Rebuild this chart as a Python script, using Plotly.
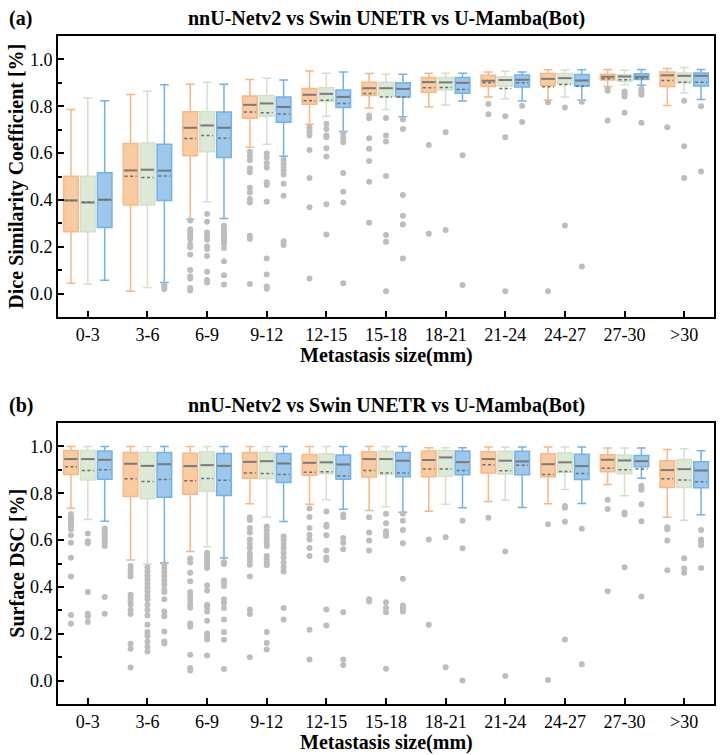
import plotly.graph_objects as go

CATEGORIES = ["0-3", "3-6", "6-9", "9-12", "12-15", "15-18", "18-21", "21-24", "24-27", "27-30", ">30"]
SERIES = ["nnU-Netv2", "Swin UNETR", "U-Mamba(Bot)"]

# ---------------- Panel (a): Dice Similarity Coefficient ----------------
A_NNU_UPPER = [0.786, 0.850, 0.894, 0.914, 0.951, 0.940, 0.941, 0.946, 0.956, 0.957, 0.961]
A_NNU_Q3 = [0.501, 0.641, 0.777, 0.844, 0.876, 0.903, 0.923, 0.932, 0.940, 0.937, 0.946]
A_NNU_MEDIAN = [0.398, 0.526, 0.708, 0.806, 0.849, 0.877, 0.903, 0.909, 0.917, 0.926, 0.932]
A_NNU_MEAN = [0.397, 0.501, 0.662, 0.775, 0.823, 0.854, 0.879, 0.900, 0.883, 0.917, 0.910]
A_NNU_Q1 = [0.264, 0.378, 0.589, 0.749, 0.809, 0.846, 0.860, 0.884, 0.889, 0.912, 0.884]
A_NNU_LOWER = [0.044, 0.010, 0.317, 0.625, 0.723, 0.793, 0.797, 0.840, 0.826, 0.884, 0.803]
A_NNU_OUTLIERS = [
    [], [],
    [0.312, 0.275, 0.261, 0.247, 0.232, 0.210, 0.198, 0.167, 0.101, 0.073, 0.064, 0.024, 0.013],
    [0.606, 0.586, 0.569, 0.535, 0.518, 0.452, 0.432, 0.404, 0.389, 0.247, 0.233, 0.041],
    [0.710, 0.692, 0.675, 0.613, 0.494, 0.369, 0.064],
    [0.760, 0.749, 0.663, 0.618, 0.566, 0.478, 0.302],
    [0.635, 0.255],
    [0.810, 0.766],
    [0.817, 0.010],
    [0.874, 0.866, 0.739],
    [0.710],
]

A_SWIN_UPPER = [0.835, 0.864, 0.903, 0.920, 0.941, 0.937, 0.941, 0.950, 0.956, 0.954, 0.966]
A_SWIN_Q3 = [0.501, 0.643, 0.777, 0.846, 0.879, 0.903, 0.923, 0.926, 0.940, 0.934, 0.942]
A_SWIN_MEDIAN = [0.389, 0.529, 0.718, 0.812, 0.853, 0.877, 0.902, 0.912, 0.920, 0.927, 0.930]
A_SWIN_MEAN = [0.390, 0.496, 0.675, 0.772, 0.826, 0.840, 0.880, 0.876, 0.893, 0.913, 0.903]
A_SWIN_Q1 = [0.264, 0.378, 0.606, 0.757, 0.820, 0.842, 0.869, 0.887, 0.896, 0.906, 0.900]
A_SWIN_LOWER = [0.041, 0.026, 0.392, 0.638, 0.757, 0.786, 0.805, 0.832, 0.840, 0.892, 0.857]
A_SWIN_OUTLIERS = [
    [], [],
    [0.340, 0.307, 0.261, 0.247, 0.230, 0.201, 0.190, 0.161, 0.093, 0.058, 0.047],
    [0.598, 0.581, 0.558, 0.538, 0.475, 0.464, 0.392, 0.150, 0.081, 0.030, 0.021],
    [0.725, 0.703, 0.675, 0.668, 0.621, 0.585, 0.381, 0.252],
    [0.750, 0.675, 0.649, 0.502, 0.250, 0.221, 0.010],
    [0.689, 0.272],
    [0.757, 0.668, 0.010],
    [0.795, 0.291],
    [0.863, 0.853, 0.842, 0.772],
    [0.823, 0.629, 0.494],
]

A_MAMBA_UPPER = [0.823, 0.892, 0.894, 0.912, 0.946, 0.937, 0.941, 0.946, 0.956, 0.957, 0.957]
A_MAMBA_Q3 = [0.516, 0.638, 0.775, 0.839, 0.869, 0.900, 0.923, 0.933, 0.936, 0.939, 0.942]
A_MAMBA_MEDIAN = [0.401, 0.525, 0.708, 0.797, 0.840, 0.874, 0.900, 0.913, 0.910, 0.926, 0.930]
A_MAMBA_MEAN = [0.401, 0.502, 0.663, 0.767, 0.812, 0.840, 0.872, 0.900, 0.886, 0.919, 0.902]
A_MAMBA_Q1 = [0.282, 0.398, 0.581, 0.732, 0.795, 0.840, 0.856, 0.882, 0.886, 0.914, 0.887]
A_MAMBA_LOWER = [0.057, 0.047, 0.321, 0.586, 0.692, 0.755, 0.822, 0.822, 0.827, 0.890, 0.829]
A_MAMBA_OUTLIERS = [
    [],
    [0.036, 0.028, 0.020],
    [0.290, 0.275, 0.261, 0.250, 0.238, 0.227, 0.215, 0.195, 0.138, 0.078, 0.039],
    [0.572, 0.555, 0.541, 0.526, 0.509, 0.469, 0.418, 0.224, 0.207],
    [0.683, 0.663, 0.646, 0.515, 0.435, 0.389, 0.044],
    [0.743, 0.703, 0.421, 0.332, 0.295, 0.150],
    [0.591, 0.037],
    [0.802, 0.733],
    [0.819, 0.116],
    [0.874, 0.866, 0.857, 0.849, 0.730],
    [0.800, 0.521],
]

# ---------------- Panel (b): Surface DSC ----------------
B_NNU_UPPER = [1.0, 1.0, 1.0, 1.0, 1.0, 1.0, 0.994, 0.997, 0.997, 0.993, 0.987]
B_NNU_Q3 = [0.983, 0.974, 0.971, 0.974, 0.966, 0.977, 0.980, 0.977, 0.969, 0.964, 0.939]
B_NNU_MEDIAN = [0.946, 0.926, 0.916, 0.934, 0.930, 0.946, 0.942, 0.946, 0.924, 0.943, 0.899]
B_NNU_MEAN = [0.913, 0.862, 0.853, 0.887, 0.890, 0.897, 0.904, 0.922, 0.880, 0.907, 0.862]
B_NNU_Q1 = [0.880, 0.786, 0.796, 0.864, 0.877, 0.869, 0.870, 0.886, 0.870, 0.892, 0.825]
B_NNU_LOWER = [0.736, 0.515, 0.551, 0.755, 0.753, 0.726, 0.723, 0.765, 0.755, 0.837, 0.698]
B_NNU_OUTLIERS = [
    [0.710, 0.699, 0.689, 0.678, 0.666, 0.656, 0.646, 0.621, 0.589, 0.525, 0.445, 0.280, 0.243],
    [0.489, 0.475, 0.461, 0.444, 0.367, 0.352, 0.338, 0.324, 0.301, 0.284, 0.157, 0.136, 0.056],
    [0.521, 0.504, 0.461, 0.424, 0.378, 0.361, 0.344, 0.325, 0.311, 0.244, 0.230, 0.110, 0.054, 0.043],
    [0.698, 0.686, 0.652, 0.632, 0.603, 0.583, 0.566, 0.544, 0.529, 0.512, 0.495, 0.445, 0.304, 0.284, 0.100],
    [0.735, 0.699, 0.652, 0.623, 0.603, 0.566, 0.532, 0.217, 0.090],
    [0.698, 0.632, 0.598, 0.555, 0.347, 0.338],
    [0.603, 0.238],
    [0.695],
    [0.668, 0.003],
    [0.772, 0.733, 0.381],
    [0.655, 0.646, 0.598, 0.471],
]

B_SWIN_UPPER = [1.0, 1.0, 1.0, 1.0, 1.0, 1.0, 0.994, 0.997, 0.997, 0.993, 0.990]
B_SWIN_Q3 = [0.983, 0.974, 0.977, 0.974, 0.969, 0.979, 0.983, 0.979, 0.973, 0.963, 0.944]
B_SWIN_MEDIAN = [0.946, 0.917, 0.920, 0.937, 0.932, 0.946, 0.953, 0.939, 0.932, 0.940, 0.903]
B_SWIN_MEAN = [0.897, 0.850, 0.863, 0.884, 0.892, 0.886, 0.904, 0.896, 0.893, 0.900, 0.857]
B_SWIN_Q1 = [0.857, 0.776, 0.809, 0.862, 0.883, 0.880, 0.873, 0.882, 0.890, 0.883, 0.825]
B_SWIN_LOWER = [0.688, 0.498, 0.571, 0.699, 0.772, 0.742, 0.753, 0.770, 0.816, 0.789, 0.685]
B_SWIN_OUTLIERS = [
    [0.628, 0.595, 0.586, 0.378, 0.285, 0.275, 0.250],
    [0.484, 0.466, 0.449, 0.432, 0.415, 0.398, 0.381, 0.364, 0.347, 0.324, 0.301, 0.278, 0.238, 0.207, 0.190, 0.167, 0.144, 0.124],
    [0.546, 0.535, 0.524, 0.512, 0.501, 0.489, 0.481, 0.407, 0.385, 0.324, 0.312, 0.295, 0.255, 0.201, 0.190, 0.175, 0.107],
    [0.658, 0.641, 0.623, 0.606, 0.589, 0.575, 0.532, 0.518, 0.504, 0.492, 0.207, 0.161, 0.133],
    [0.722, 0.666, 0.658, 0.621, 0.555, 0.526, 0.515, 0.304, 0.235],
    [0.712, 0.672, 0.638, 0.626, 0.618, 0.335, 0.310, 0.292, 0.050],
    [0.612, 0.057],
    [0.551, 0.020],
    [0.746, 0.738, 0.678, 0.175],
    [0.718, 0.709, 0.484],
    [0.522, 0.479, 0.461],
]

B_MAMBA_UPPER = [1.0, 1.0, 1.0, 1.0, 1.0, 1.0, 0.994, 0.997, 0.997, 0.993, 0.981]
B_MAMBA_Q3 = [0.980, 0.974, 0.970, 0.970, 0.963, 0.974, 0.980, 0.979, 0.967, 0.961, 0.934]
B_MAMBA_MEDIAN = [0.943, 0.924, 0.917, 0.927, 0.923, 0.939, 0.933, 0.936, 0.916, 0.937, 0.897]
B_MAMBA_MEAN = [0.900, 0.859, 0.856, 0.880, 0.874, 0.886, 0.897, 0.920, 0.884, 0.904, 0.849]
B_MAMBA_Q1 = [0.860, 0.783, 0.790, 0.846, 0.860, 0.870, 0.879, 0.879, 0.859, 0.913, 0.823]
B_MAMBA_LOWER = [0.680, 0.502, 0.524, 0.679, 0.732, 0.719, 0.738, 0.739, 0.756, 0.864, 0.708]
B_MAMBA_OUTLIERS = [
    [0.649, 0.639, 0.629, 0.618, 0.606, 0.595, 0.586, 0.575, 0.357, 0.285],
    [0.498, 0.481, 0.464, 0.446, 0.429, 0.411, 0.389, 0.378, 0.347, 0.295, 0.275, 0.210, 0.167, 0.158],
    [0.506, 0.498, 0.429, 0.418, 0.404, 0.347, 0.332, 0.310, 0.261, 0.207, 0.174, 0.049],
    [0.615, 0.601, 0.583, 0.566, 0.546, 0.526, 0.504, 0.484, 0.466, 0.310, 0.261],
    [0.709, 0.698, 0.609, 0.589, 0.561, 0.292, 0.090, 0.067],
    [0.712, 0.683, 0.643, 0.586, 0.435, 0.321, 0.310, 0.295],
    [0.683, 0.565, 0.000],
    [],
    [0.648, 0.070],
    [0.832, 0.823, 0.815, 0.753, 0.680, 0.359],
    [0.643, 0.603, 0.592, 0.578, 0.481],
]

# ---------------- styling ----------------
FILL_COLORS = ["#F9CBA2", "#DDE8D6", "#9DC7EB"]
LINE_COLORS = ["#F6B887", "#D3E1CA", "#74B1E5"]
OFFSETS = [-0.283, 0.0, 0.283]
BOX_W = 0.245
MEDIAN_COLOR = "#7A7A7A"
MEAN_COLOR = "#6E6E6E"
OUTLIER_COLOR = "#BDBDBD"
FONT = "Liberation Serif"

panels = [
    ("x", "y", [
        (A_NNU_UPPER, A_NNU_Q3, A_NNU_MEDIAN, A_NNU_MEAN, A_NNU_Q1, A_NNU_LOWER, A_NNU_OUTLIERS),
        (A_SWIN_UPPER, A_SWIN_Q3, A_SWIN_MEDIAN, A_SWIN_MEAN, A_SWIN_Q1, A_SWIN_LOWER, A_SWIN_OUTLIERS),
        (A_MAMBA_UPPER, A_MAMBA_Q3, A_MAMBA_MEDIAN, A_MAMBA_MEAN, A_MAMBA_Q1, A_MAMBA_LOWER, A_MAMBA_OUTLIERS),
    ]),
    ("x2", "y2", [
        (B_NNU_UPPER, B_NNU_Q3, B_NNU_MEDIAN, B_NNU_MEAN, B_NNU_Q1, B_NNU_LOWER, B_NNU_OUTLIERS),
        (B_SWIN_UPPER, B_SWIN_Q3, B_SWIN_MEDIAN, B_SWIN_MEAN, B_SWIN_Q1, B_SWIN_LOWER, B_SWIN_OUTLIERS),
        (B_MAMBA_UPPER, B_MAMBA_Q3, B_MAMBA_MEDIAN, B_MAMBA_MEAN, B_MAMBA_Q1, B_MAMBA_LOWER, B_MAMBA_OUTLIERS),
    ]),
]

fig = go.Figure()
n = len(CATEGORIES)
for xa, ya, series in panels:
    for s, (upper, q3, med, mean, q1, lower, outl) in enumerate(series):
        xs = [i + OFFSETS[s] for i in range(n)]
        # outliers
        ox, oy = [], []
        for i in range(n):
            for v in outl[i]:
                ox.append(xs[i])
                oy.append(v)
        fig.add_trace(go.Scatter(
            x=ox, y=oy, mode="markers", xaxis=xa, yaxis=ya, showlegend=False,
            marker=dict(color=OUTLIER_COLOR, size=6, line=dict(width=0)), hoverinfo="skip"))
        # boxes
        fig.add_trace(go.Box(
            x=xs, q1=q1, median=med, q3=q3, lowerfence=lower, upperfence=upper,
            width=BOX_W, whiskerwidth=0.6, boxpoints=False, name=SERIES[s],
            fillcolor=FILL_COLORS[s], line=dict(color=LINE_COLORS[s], width=1.5),
            xaxis=xa, yaxis=ya, showlegend=False, hoverinfo="skip"))
        # median lines
        mx, my = [], []
        for i in range(n):
            mx += [xs[i] - BOX_W / 2 + 0.01, xs[i] + BOX_W / 2 - 0.01, None]
            my += [med[i], med[i], None]
        fig.add_trace(go.Scatter(
            x=mx, y=my, mode="lines", xaxis=xa, yaxis=ya, showlegend=False,
            line=dict(color=MEDIAN_COLOR, width=2), hoverinfo="skip"))
        # mean dashed lines
        ex, ey = [], []
        for i in range(n):
            ex += [xs[i] - 0.1, xs[i] + 0.1, None]
            ey += [mean[i], mean[i], None]
        fig.add_trace(go.Scatter(
            x=ex, y=ey, mode="lines", xaxis=xa, yaxis=ya, showlegend=False,
            line=dict(color=MEAN_COLOR, width=1.5, dash="3px,2.5px"), hoverinfo="skip"))

W, H = 720, 755
ML, MR, MT, MB = 58, 4, 36, 51
PH = H - MT - MB
PW = W - ML - MR
TOP_A, BOT_A = 36, 317
TOP_B, BOT_B = 423, 704


def py2paper(py):
    return (H - MB - py) / PH


def px2paper(px):
    return (px - ML) / PW


xaxis_common = dict(
    range=[-0.5, 10.5], tickmode="array", tickvals=list(range(n)), ticktext=CATEGORIES,
    showline=True, linecolor="black", linewidth=2, mirror=True, showgrid=False, zeroline=False,
    ticks="inside", ticklen=6, tickwidth=2, tickcolor="black",
    tickfont=dict(family=FONT, size=18, color="black"),
)
yaxis_common = dict(
    range=[-0.1, 1.1], tickmode="array", tickvals=[0, 0.2, 0.4, 0.6, 0.8, 1.0], tickformat=".1f",
    showline=True, linecolor="black", linewidth=2, mirror=True, showgrid=False, zeroline=False,
    ticks="inside", ticklen=6, tickwidth=1.5, tickcolor="black",
    minor=dict(tickvals=[-0.1, 0.1, 0.3, 0.5, 0.7, 0.9, 1.1], ticks="inside", ticklen=4, tickwidth=1.5, tickcolor="black"),
    tickfont=dict(family=FONT, size=18, color="black"),
)

fig.update_layout(
    width=W, height=H, margin=dict(l=ML, r=MR, t=MT, b=MB),
    paper_bgcolor="white", plot_bgcolor="white", boxmode="overlay", showlegend=False,
    xaxis=dict(**xaxis_common, domain=[0, 1], anchor="y"),
    yaxis=dict(**yaxis_common, domain=[py2paper(BOT_A), py2paper(TOP_A)], anchor="x"),
    xaxis2=dict(**xaxis_common, domain=[0, 1], anchor="y2"),
    yaxis2=dict(**yaxis_common, domain=[py2paper(BOT_B), py2paper(TOP_B)], anchor="x2"),
)

TITLE = "nnU-Netv2 vs Swin UNETR vs U-Mamba(Bot)"
ann = []
for label, ty, ytitle, ycen, xty in [
    ("(a)", 18, "Dice Similarity Coefficient [%]", (TOP_A + BOT_A) / 2, 355),
    ("(b)", 405, "Surface DSC [%]", (TOP_B + BOT_B) / 2, 742),
]:
    ann.append(dict(text="<b>" + TITLE + "</b>", x=0.5, y=py2paper(ty), xref="paper", yref="paper",
                    xanchor="center", yanchor="middle", showarrow=False,
                    font=dict(family=FONT, size=20, color="black")))
    ann.append(dict(text="<b>" + label + "</b>", x=px2paper(7), y=py2paper(ty), xref="paper", yref="paper",
                    xanchor="left", yanchor="middle", showarrow=False,
                    font=dict(family=FONT, size=20, color="black")))
    ann.append(dict(text="<b>" + ytitle + "</b>", x=px2paper(16), y=py2paper(ycen), xref="paper", yref="paper",
                    xanchor="center", yanchor="middle", showarrow=False, textangle=-90,
                    font=dict(family=FONT, size=20, color="black")))
    ann.append(dict(text="<b>Metastasis size(mm)</b>", x=0.5, y=py2paper(xty), xref="paper", yref="paper",
                    xanchor="center", yanchor="middle", showarrow=False,
                    font=dict(family=FONT, size=20, color="black")))
fig.update_layout(annotations=ann)

fig.write_html("out.html")
